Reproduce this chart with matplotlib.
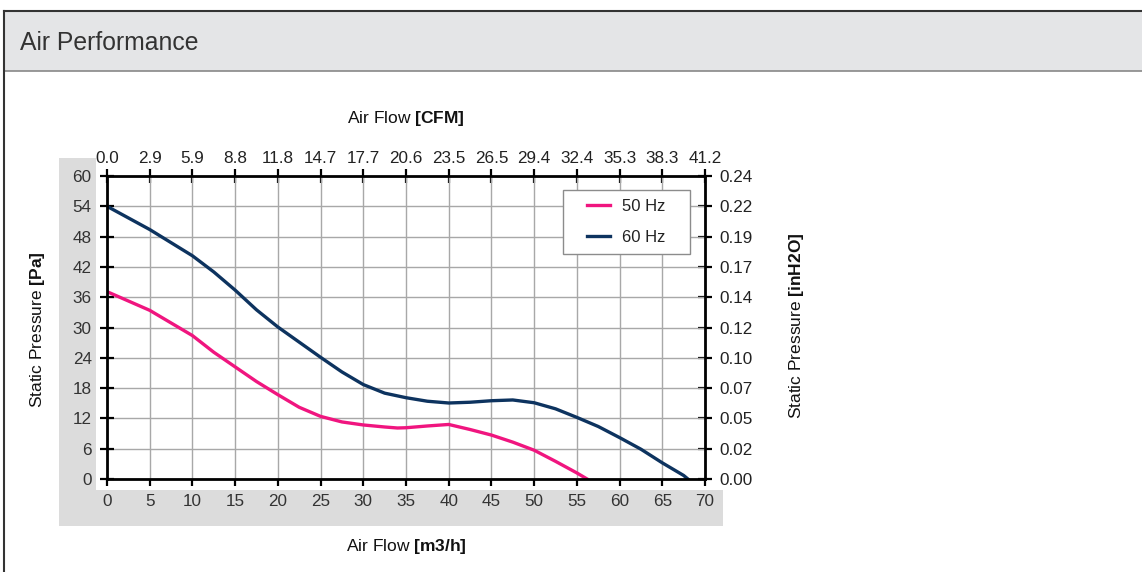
import matplotlib
matplotlib.use("Agg")
import matplotlib.pyplot as plt
from matplotlib.patches import Rectangle
from matplotlib.lines import Line2D

plt.rcParams['font.family'] = ['Liberation Sans', 'DejaVu Sans']
plt.rcParams['mathtext.fontset'] = 'custom'
plt.rcParams['mathtext.rm'] = 'Liberation Sans'
plt.rcParams['mathtext.bf'] = 'Liberation Sans:bold'

# ---- data ----
x_ticks = [0, 5, 10, 15, 20, 25, 30, 35, 40, 45, 50, 55, 60, 65, 70]
y_ticks = [0, 6, 12, 18, 24, 30, 36, 42, 48, 54, 60]
cfm_labels = ["0.0", "2.9", "5.9", "8.8", "11.8", "14.7", "17.7", "20.6", "23.5",
              "26.5", "29.4", "32.4", "35.3", "38.3", "41.2"]
inh2o_labels = ["0.00", "0.02", "0.05", "0.07", "0.10", "0.12", "0.14", "0.17",
                "0.19", "0.22", "0.24"]

flow_50 = [0, 5, 10, 12.5, 15, 17.5, 20, 22.5, 25, 27.5, 30, 32.5, 34, 35, 37.5,
           40, 42.5, 45, 47.5, 50, 52.5, 55, 56.2]
pres_50 = [37.1, 33.4, 28.4, 25.1, 22.2, 19.3, 16.7, 14.2, 12.4, 11.3, 10.7, 10.3,
           10.1, 10.15, 10.5, 10.8, 9.8, 8.7, 7.3, 5.7, 3.5, 1.2, 0.0]

flow_60 = [0, 5, 10, 12.5, 15, 17.5, 20, 22.5, 25, 27.5, 30, 32.5, 35, 37.5, 40,
           42.5, 45, 47.5, 50, 52.5, 55, 57.5, 60, 62.5, 65, 67.5, 68]
pres_60 = [54.0, 49.4, 44.2, 41.0, 37.4, 33.5, 30.1, 27.1, 24.1, 21.2, 18.7, 17.0,
           16.1, 15.4, 15.05, 15.2, 15.5, 15.65, 15.1, 13.9, 12.2, 10.4, 8.2, 5.9,
           3.2, 0.7, 0.0]

series_names = ["50 Hz", "60 Hz"]
series_colors = ["#f0157f", "#0d335f"]

TICK_FS = 12.3
LABEL_FS = 12.5

W, H = 1142, 572
fig = plt.figure(figsize=(W / 100, H / 100), dpi=100)

def fx(px):
    return px / W

def fy(py):
    return 1 - py / H

# header band and frame
fig.patches.append(Rectangle((fx(4), fy(71)), fx(W + 10 - 4), (71 - 11) / H,
                             transform=fig.transFigure, facecolor="#e4e5e7",
                             edgecolor="none", zorder=0))
fig.add_artist(Line2D([fx(4), 1.01], [fy(11), fy(11)], color="#333333", lw=1.5))
fig.add_artist(Line2D([fx(4), 1.01], [fy(71), fy(71)], color="#888888", lw=1.2))
fig.add_artist(Line2D([fx(4), fx(4)], [fy(11), -0.01], color="#333333", lw=1.5))
fig.text(fx(20), fy(43), "Air Performance", fontsize=17.8, color="#333333",
         va="center", ha="left")

# gray label bands
band = "#dcdcdc"
fig.patches.append(Rectangle((fx(59), fy(526)), fx(96 - 59), (526 - 158) / H,
                             transform=fig.transFigure, facecolor=band,
                             edgecolor="none", zorder=0))
fig.patches.append(Rectangle((fx(59), fy(526)), fx(723 - 59), (526 - 490) / H,
                             transform=fig.transFigure, facecolor=band,
                             edgecolor="none", zorder=0))

# main axes
x0, x1, y0, y1 = 107, 705, 176, 479
ax = fig.add_axes([fx(x0), fy(y1), fx(x1 - x0), (y1 - y0) / H])
ax.set_xlim(0, 70)
ax.set_ylim(0, 60)
ax.set_xticks(x_ticks)
ax.set_yticks(y_ticks)
ax.grid(True, color="#a8a8a8", lw=1.0)
ax.set_axisbelow(True)
for s in ax.spines.values():
    s.set_linewidth(2.0)
    s.set_color("black")
ax.tick_params(axis="x", direction="out", length=5, width=1.6, labelsize=TICK_FS,
               labelcolor="#333333", pad=6, top=True, labeltop=False)
ax.tick_params(axis="y", direction="inout", length=10, width=1.6, labelsize=TICK_FS,
               labelcolor="#333333", pad=6, right=True, labelright=False)

lines = [
    ax.plot(flow_50, pres_50, color=series_colors[0], lw=2.4, label=series_names[0])[0],
    ax.plot(flow_60, pres_60, color=series_colors[1], lw=2.4, label=series_names[1])[0],
]

# top CFM axis
axt = ax.twiny()
axt.set_xlim(0, 70)
axt.set_xticks(x_ticks)
axt.set_xticklabels(cfm_labels)
axt.tick_params(axis="x", direction="inout", length=10, width=1.6, labelsize=TICK_FS,
                labelcolor="#222222", pad=2)
for s in axt.spines.values():
    s.set_visible(False)

# right inH2O axis
axr = ax.twinx()
axr.set_ylim(0, 60)
axr.set_yticks(y_ticks)
axr.set_yticklabels(inh2o_labels)
axr.tick_params(axis="y", direction="inout", length=10, width=1.6, labelsize=TICK_FS,
                labelcolor="#222222", pad=5.5)
for s in axr.spines.values():
    s.set_visible(False)

ax.set_zorder(axr.get_zorder() + 1)
ax.patch.set_visible(False)

# legend with a custom-sized frame
lb_x0, lb_x1, lb_y0, lb_y1 = 0.7625, 0.975, 0.7426, 0.954
ax.add_patch(Rectangle((lb_x0, lb_y0), lb_x1 - lb_x0, lb_y1 - lb_y0,
                       transform=ax.transAxes, facecolor="white",
                       edgecolor="#8c8c8c", lw=1.0, zorder=4.5))
leg = ax.legend(handles=lines, loc="center",
                bbox_to_anchor=((lb_x0 + lb_x1) / 2, (lb_y0 + lb_y1) / 2),
                fontsize=12, frameon=False, handlelength=1.4,
                handletextpad=0.72, borderpad=0, labelspacing=0.95,
                borderaxespad=0)
leg.set_zorder(5)
for t in leg.get_texts():
    t.set_color("#222222")

# axis titles
fig.text(fx(406), fy(118), "Air Flow $\\bf{[CFM]}$", fontsize=LABEL_FS,
         ha="center", va="center", color="#111111")
fig.text(fx(406), fy(547), "Air Flow $\\bf{[m3/h]}$", fontsize=LABEL_FS,
         ha="center", va="center", color="#111111")
fig.text(fx(38), fy(330), "Static Pressure $\\bf{[Pa]}$", fontsize=LABEL_FS,
         ha="center", va="center", rotation=90, color="#111111")
fig.text(fx(796), fy(326), "Static Pressure $\\bf{[inH2O]}$", fontsize=LABEL_FS,
         ha="center", va="center", rotation=90, color="#111111")

fig.savefig("out.png", dpi=100)
